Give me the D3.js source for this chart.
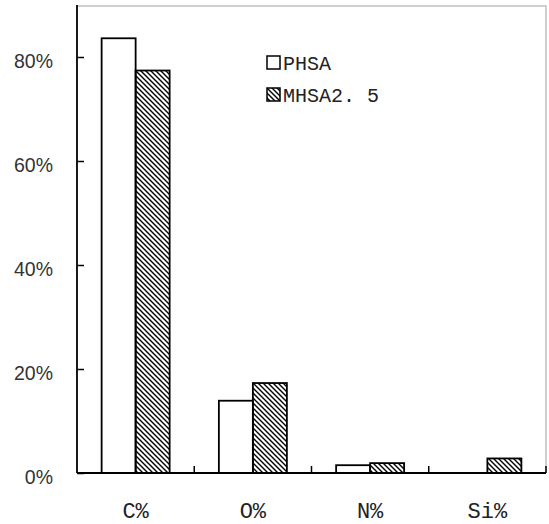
<!DOCTYPE html>
<html>
<head>
<meta charset="utf-8">
<script src="https://cdn.jsdelivr.net/npm/d3@7/dist/d3.min.js"></script>
<style>
  html, body { margin: 0; padding: 0; background: #fff; }
  svg { display: block; }
</style>
</head>
<body>
<svg id="chart" width="549" height="524"></svg>
<script>
// Surface composition (atomic %) of the two samples
const categories = ["C%", "O%", "N%", "Si%"];
const seriesNames = ["PHSA", "MHSA2. 5"];
const phsa = [0.836, 0.139, 0.015, 0];
const mhsa = [0.774, 0.173, 0.019, 0.028];
const yTicks = [0, 0.2, 0.4, 0.6, 0.8];

const svg = d3.select("#chart");
const plotLeft = 77, plotRight = 546, plotTop = 5, plotBottom = 473;

const x = d3.scaleBand().domain(categories).range([plotLeft, plotRight]).padding(0);
const y = d3.scaleLinear().domain([0, 0.9]).range([plotBottom, plotTop]);
const bw = x.bandwidth() * 0.29;

// hatch pattern for the second series
const defs = svg.append("defs");
defs.append("pattern")
  .attr("id", "hatch")
  .attr("patternUnits", "userSpaceOnUse")
  .attr("width", 5).attr("height", 5)
  .append("path")
  .attr("d", "M0,0 L5,5 M-1,4 L1,6 M4,-1 L6,1")
  .attr("stroke", "#000")
  .attr("stroke-width", 1.4);

// light frame on the top and right of the plot
svg.append("path")
  .attr("d", `M${plotLeft},${plotTop + 1} H${plotRight} V${plotBottom}`)
  .attr("fill", "none")
  .attr("stroke", "#cfcfcf")
  .attr("stroke-width", 2);

// bars
const rows = categories.map((c, i) => ({ c, a: phsa[i], b: mhsa[i] }));
const g = svg.append("g");
rows.forEach(r => {
  const cx = x(r.c) + x.bandwidth() / 2;
  if (r.a > 0) {
    g.append("rect")
      .attr("x", cx - bw).attr("y", y(r.a))
      .attr("width", bw).attr("height", y(0) - y(r.a))
      .attr("fill", "#fff").attr("stroke", "#000").attr("stroke-width", 1.8);
  }
  if (r.b > 0) {
    g.append("rect")
      .attr("x", cx).attr("y", y(r.b))
      .attr("width", bw).attr("height", y(0) - y(r.b))
      .attr("fill", "url(#hatch)").attr("stroke", "#000").attr("stroke-width", 1.8);
  }
});

// y axis with inward ticks
const yAxis = svg.append("g")
  .attr("transform", `translate(${plotLeft},0)`)
  .call(d3.axisLeft(y).tickValues(yTicks).tickFormat(d3.format(".0%"))
    .tickSize(-7).tickSizeOuter(0).tickPadding(24));
yAxis.select(".domain").attr("stroke", "#000").attr("stroke-width", 1.8)
  .attr("d", `M0,${plotTop} V${plotBottom}`);
yAxis.selectAll(".tick line").attr("stroke", "#000").attr("stroke-width", 1.5);
yAxis.selectAll(".tick text")
  .attr("font-family", "'Liberation Sans', Arial, sans-serif")
  .attr("font-size", 19.5).attr("fill", "#333").attr("dy", "0.55em");

// x axis: labels centred in each band
const xAxis = svg.append("g")
  .attr("transform", `translate(0,${plotBottom})`)
  .call(d3.axisBottom(x).tickSize(0).tickPadding(29));
xAxis.select(".domain").attr("stroke", "#000").attr("stroke-width", 1.8)
  .attr("d", `M${plotLeft},0 H${plotRight}`);
xAxis.selectAll(".tick text")
  .attr("font-family", "'Liberation Mono', monospace")
  .attr("font-size", 22).attr("fill", "#222");

// inward ticks on the band boundaries
xAxis.selectAll(".sep")
  .data(categories)
  .join("line")
  .attr("x1", d => x(d) + x.bandwidth()).attr("x2", d => x(d) + x.bandwidth())
  .attr("y1", 0).attr("y2", -7)
  .attr("stroke", "#000").attr("stroke-width", 1.5);

// legend
const legend = svg.append("g").attr("transform", "translate(267,56)");
seriesNames.forEach((name, i) => {
  const row = legend.append("g").attr("transform", `translate(0,${i * 32})`);
  row.append("rect")
    .attr("width", 13).attr("height", 13)
    .attr("fill", i === 0 ? "#fff" : "url(#hatch)")
    .attr("stroke", "#000").attr("stroke-width", 1.5);
  row.append("text")
    .attr("x", 16).attr("y", 13.5)
    .attr("font-family", "'Liberation Mono', monospace")
    .attr("font-size", 20).attr("fill", "#222")
    .text(name);
});
</script>
</body>
</html>
